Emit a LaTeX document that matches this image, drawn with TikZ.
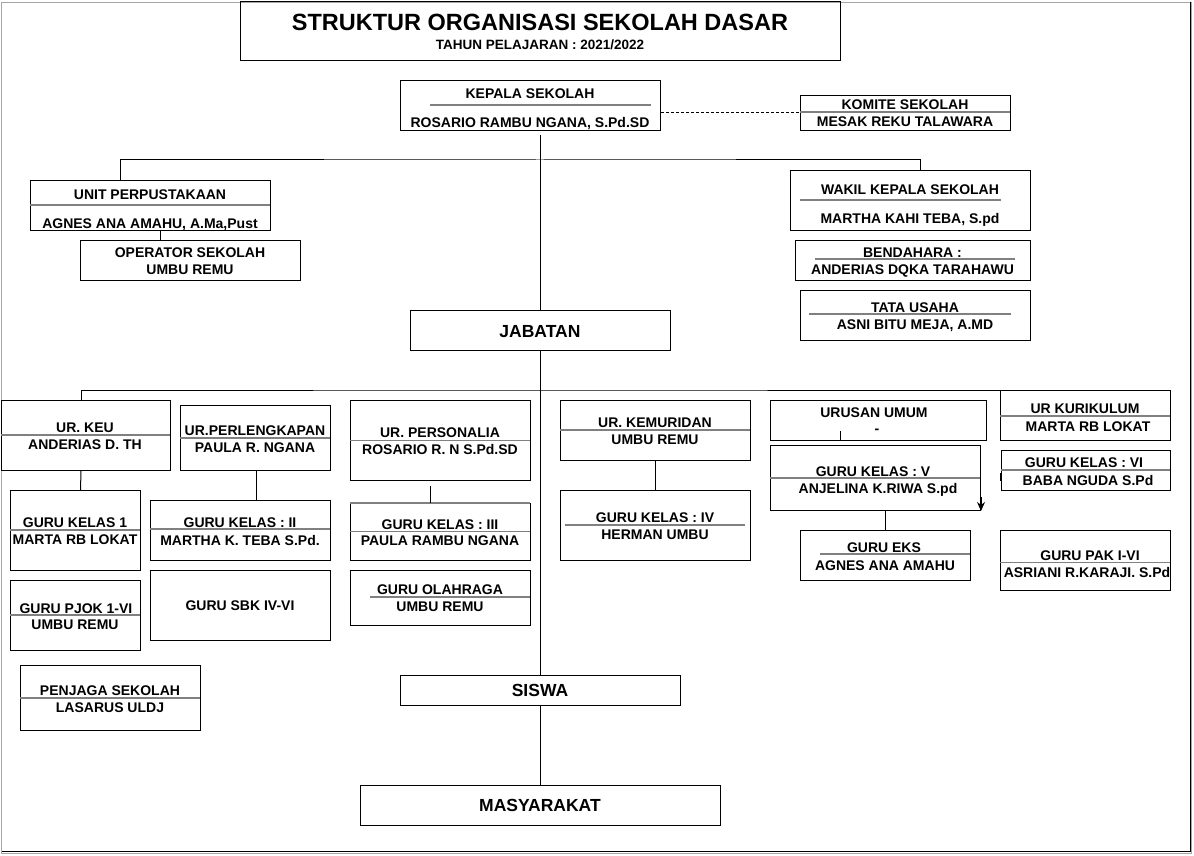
\documentclass[tikz,border=0pt]{standalone}
\usepackage{fontspec}
\setmainfont{Liberation Sans}
\usetikzlibrary{arrows.meta}
\tikzset{
	box/.style={draw, line width=1pt, rectangle, inner sep=0pt, anchor=north west},
	txt/.style={font=\bfseries\fontsize{14}{16}\selectfont, inner sep=0pt, text height=10pt, text depth=0pt},
	big/.style={font=\bfseries\fontsize{17.5}{20}\selectfont, inner sep=0pt, text height=12.5pt, text depth=0pt},
	sep/.style={draw=black!50, line width=1.3pt},
	link/.style={draw, line width=1pt}
}
\begin{document}
\begin{tikzpicture}[x=1pt,y=-1pt]
		\useasboundingbox (0,0) rectangle (1194,856);
		\draw[black!35] (1,2) rectangle (1191,853);
		\draw[line width=1pt] (1190,2) -- (1190,851) -- (2,851);

		\node[box, minimum width=600pt, minimum height=59pt] (title) at (240,1) {};
		\node[inner sep=0pt, font=\bfseries\fontsize{23.5}{26}\selectfont, text height=17pt, text depth=0pt] (titleA) at (540,22) {STRUKTUR ORGANISASI SEKOLAH DASAR};
		\node[inner sep=0pt, font=\bfseries\fontsize{13.5}{15}\selectfont, text height=9.7pt, text depth=0pt] (titleB) at (540,45) {TAHUN PELAJARAN : 2021/2022};

		\node[box, minimum width=260pt, minimum height=50pt] (kepala) at (400,80) {};
		\node[txt] (kepalaA) at (530,94) {KEPALA SEKOLAH};
		\node[txt] (kepalaB) at (530,123) {ROSARIO RAMBU NGANA, S.Pd.SD};
		\draw[sep] (430,105) -- (651,105);

		\node[box, minimum width=210pt, minimum height=35pt] (komite) at (800,95) {};
		\node[txt] (komiteA) at (905,105) {KOMITE SEKOLAH};
		\node[txt] (komiteB) at (905,122) {MESAK REKU TALAWARA};
		\draw[sep] (800,112) -- (1010,112);

		\node[box, minimum width=240pt, minimum height=50pt] (perpus) at (30,180) {};
		\node[txt] (perpusA) at (150,194) {UNIT PERPUSTAKAAN};
		\node[txt] (perpusB) at (150,223) {AGNES ANA AMAHU, A.Ma,Pust};
		\draw[sep] (30,205) -- (270,205);

		\node[box, minimum width=220pt, minimum height=40pt] (operator) at (80,240) {};
		\node[txt] (operatorA) at (190,252) {OPERATOR SEKOLAH};
		\node[txt] (operatorB) at (190,269) {UMBU REMU};

		\node[box, minimum width=240pt, minimum height=60pt] (wakil) at (790,170) {};
		\node[txt] (wakilA) at (910,189) {WAKIL KEPALA SEKOLAH};
		\node[txt] (wakilB) at (910,218) {MARTHA KAHI TEBA, S.pd};
		\draw[sep] (800,200) -- (1001,200);

		\node[box, minimum width=235pt, minimum height=40pt] (bendahara) at (795,240) {};
		\node[txt] (bendaharaA) at (912.5,252) {BENDAHARA :};
		\node[txt] (bendaharaB) at (912.5,269) {ANDERIAS DQKA TARAHAWU};
		\draw[sep] (815,259) -- (1015,259);

		\node[box, minimum width=230pt, minimum height=50pt] (tatausaha) at (800,290) {};
		\node[txt] (tatausahaA) at (915,307) {TATA USAHA};
		\node[txt] (tatausahaB) at (915,324) {ASNI BITU MEJA, A.MD};
		\draw[sep] (809,314) -- (1011,314);

		\node[box, minimum width=260pt, minimum height=40pt] (jabatan) at (410,310) {};
		\node[big] (jabatanA) at (540,331) {JABATAN};

		\node[box, minimum width=169pt, minimum height=70pt] (keu) at (1,400) {};
		\node[txt] (keuA) at (85,427) {UR. KEU};
		\node[txt] (keuB) at (85,444) {ANDERIAS D. TH};
		\draw[sep] (1,435) -- (170,435);

		\node[box, minimum width=130pt, minimum height=80pt] (kelas1) at (10,490) {};
		\node[txt] (kelas1A) at (75,522) {GURU KELAS 1};
		\node[txt] (kelas1B) at (75,539) {MARTA RB LOKAT};
		\draw[sep] (10,530) -- (140,530);

		\node[box, minimum width=130pt, minimum height=70pt] (pjok) at (10,580) {};
		\node[txt] (pjokA) at (76,608) {GURU PJOK 1-VI};
		\node[txt] (pjokB) at (75,624) {UMBU REMU};
		\draw[sep] (10,615) -- (140,615);

		\node[box, minimum width=180pt, minimum height=65pt] (penjaga) at (20,665) {};
		\node[txt] (penjagaA) at (110,690) {PENJAGA SEKOLAH};
		\node[txt] (penjagaB) at (110,707.5) {LASARUS ULDJ};
		\draw[sep] (20,698) -- (200,698);

		\node[box, minimum width=150pt, minimum height=65pt] (perleng) at (180,405) {};
		\node[txt] (perlengA) at (255,430) {UR.PERLENGKAPAN};
		\node[txt] (perlengB) at (255,447) {PAULA R. NGANA};
		\draw[sep] (180,438) -- (330,438);

		\node[box, minimum width=180pt, minimum height=60pt] (kelas2) at (150,500) {};
		\node[txt] (kelas2A) at (240,522) {GURU KELAS : II};
		\node[txt] (kelas2B) at (240,540) {MARTHA K. TEBA S.Pd.};
		\draw[sep] (150,529) -- (330,529);

		\node[box, minimum width=180pt, minimum height=70pt] (sbk) at (150,570) {};
		\node[txt] (sbkA) at (240,605) {GURU SBK IV-VI};

		\node[box, minimum width=180pt, minimum height=80pt] (personalia) at (350,400) {};
		\node[txt] (personaliaA) at (440,432) {UR. PERSONALIA};
		\node[txt] (personaliaB) at (440,449) {ROSARIO R. N S.Pd.SD};
		\draw[sep] (350,440.5) -- (530,440.5);

		\node[box, minimum width=180pt, minimum height=57pt] (kelas3) at (350,503) {};
		\node[txt] (kelas3A) at (440,524) {GURU KELAS : III};
		\node[txt] (kelas3B) at (440,540) {PAULA RAMBU NGANA};
		\draw[sep] (350,531.5) -- (530,531.5);
		\draw[sep] (350,503) -- (530,503);

		\node[box, minimum width=180pt, minimum height=55pt] (olahraga) at (350,570) {};
		\node[txt] (olahragaA) at (440,589) {GURU OLAHRAGA};
		\node[txt] (olahragaB) at (440,606.5) {UMBU REMU};
		\draw[sep] (370,597) -- (530,597);

		\node[box, minimum width=190pt, minimum height=60pt] (kemuridan) at (560,400) {};
		\node[txt] (kemuridanA) at (655,422) {UR. KEMURIDAN};
		\node[txt] (kemuridanB) at (655,439) {UMBU REMU};
		\draw[sep] (560,430) -- (750,430);

		\node[box, minimum width=190pt, minimum height=70pt] (kelas4) at (560,490) {};
		\node[txt] (kelas4A) at (655,517) {GURU KELAS : IV};
		\node[txt] (kelas4B) at (655,534) {HERMAN UMBU};
		\draw[sep] (565,525) -- (745,525);

		\node[box, minimum width=216pt, minimum height=40pt] (umum) at (770,400) {};
		\node[txt] (umumA) at (874,412) {URUSAN UMUM};
		\node[txt] (umumB) at (877,428) {-};

		\node[box, minimum width=210pt, minimum height=65pt] (kelas5) at (770,445) {};
		\node[txt] (kelas5A) at (873,471) {GURU KELAS : V};
		\node[txt] (kelas5B) at (878,488) {ANJELINA K.RIWA S.pd};
		\draw[sep] (770,478) -- (980,478);

		\node[box, minimum width=170pt, minimum height=50pt] (eks) at (800,530) {};
		\node[txt] (eksA) at (884,547.5) {GURU EKS};
		\node[txt] (eksB) at (885,565) {AGNES ANA AMAHU};
		\draw[sep] (820,554) -- (970,554);

		\node[box, minimum width=170pt, minimum height=50pt] (kurikulum) at (1000,390) {};
		\node[txt] (kurikulumA) at (1085,408) {UR KURIKULUM};
		\node[txt] (kurikulumB) at (1088,426) {MARTA RB LOKAT};
		\draw[sep] (1000,416) -- (1170,416);

		\node[box, minimum width=169pt, minimum height=40pt] (kelas6) at (1001,450) {};
		\node[txt] (kelas6A) at (1084,462) {GURU KELAS : VI};
		\node[txt] (kelas6B) at (1088,480) {BABA NGUDA S.Pd};
		\draw[sep] (1001,470) -- (1170,470);

		\node[box, minimum width=170pt, minimum height=60pt] (pak) at (1000,530) {};
		\node[txt] (pakA) at (1090,555) {GURU PAK I-VI};
		\node[txt] (pakB) at (1087,572.5) {ASRIANI R.KARAJI. S.Pd};
		\draw[sep] (1000,562.5) -- (1170,562.5);

		\node[box, minimum width=280pt, minimum height=30pt] (siswa) at (400,675) {};
		\node[big] (siswaA) at (540,690.5) {SISWA};

		\node[box, minimum width=360pt, minimum height=40pt] (masyarakat) at (360,785) {};
		\node[big] (masyarakatA) at (540,805) {MASYARAKAT};

		\coordinate (busA) at (540,160);
		\coordinate (busB) at (540,390);

		\draw[link] ([yshift=-4pt]kepala.south -| jabatan.north) -- (jabatan.north);
		\draw[link, dash pattern=on 3pt off 2pt] (kepala.east |- komite.west) -- (komite.west);
		\draw[link] ([xshift=-30pt]perpus.north) |- (busA) -| ([xshift=10pt]wakil.north);
		\draw[link] ([xshift=10pt]perpus.south) -- ([xshift=-30pt]operator.north);
		\draw[link] (jabatan.south) -- (siswa.north);
		\draw[link] ([xshift=-5pt]keu.north) |- (busB) -| (kurikulum.north west);
		\draw[link] ([xshift=-5pt]keu.south) -- ([xshift=5pt]kelas1.north);
		\draw[link] ([xshift=1pt]perleng.south) -- ([xshift=16pt]kelas2.north);
		\draw[link] ([xshift=-10pt,yshift=-5pt]personalia.south) -- ([xshift=-10pt]kelas3.north);
		\draw[link] (kemuridan.south) -- (kelas4.north);
		\draw[link] ([xshift=-38pt]umum.south) -- ([xshift=-38pt,yshift=10pt]umum.south);
		\draw[link] ([xshift=10pt]kelas5.south) -- (eks.north);
		\draw[link, -{Stealth[length=9pt,width=8pt]}] ([yshift=14pt]kelas5.south east) -- (kelas5.south east);
		\draw[line width=1.6pt] ([yshift=-2pt]kelas6.west) -- ([yshift=-10pt]kelas6.west);
		\draw[link] (siswa.south) -- (masyarakat.north);
\end{tikzpicture}
\end{document}
